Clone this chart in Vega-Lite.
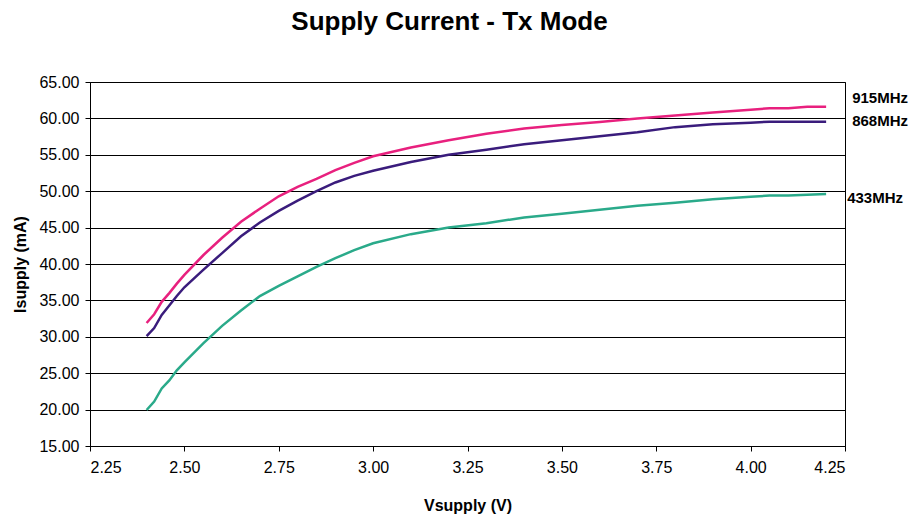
{
  "$schema": "https://vega.github.io/schema/vega-lite/v6.json",
  "width": 755,
  "height": 364,
  "autosize": {"type": "none"},
  "padding": {"left": 90, "top": 82, "right": 74, "bottom": 73},
  "background": "white",
  "title": {
    "text": "Supply Current - Tx Mode",
    "font": "Liberation Sans",
    "fontSize": 26,
    "fontWeight": "bold",
    "letterSpacing": 1.3,
    "color": "black",
    "anchor": "middle",
    "offset": 39,
    "dx": -18
  },
  "config": {
    "view": {"stroke": "black", "strokeWidth": 1},
    "axis": {
      "labelFont": "Liberation Sans",
      "titleFont": "Liberation Sans",
      "labelFontSize": 16,
      "titleFontSize": 16,
      "titleFontWeight": "bold",
      "labelColor": "black",
      "titleColor": "black",
      "domainColor": "black",
      "tickColor": "black",
      "tickSize": 5,
      "gridColor": "black",
      "gridOpacity": 1,
      "gridWidth": 1
    }
  },
  "data": {
    "values": [
      {"V": 2.40, "915MHz": 31.9, "868MHz": 30.1, "433MHz": 19.95},
      {"V": 2.42, "915MHz": 33.1, "868MHz": 31.2, "433MHz": 21.1},
      {"V": 2.44, "915MHz": 34.8, "868MHz": 33.0, "433MHz": 22.9},
      {"V": 2.46, "915MHz": 36.0, "868MHz": 34.3, "433MHz": 24.0},
      {"V": 2.48, "915MHz": 37.3, "868MHz": 35.6, "433MHz": 25.4},
      {"V": 2.50, "915MHz": 38.5, "868MHz": 36.8, "433MHz": 26.5},
      {"V": 2.55, "915MHz": 41.2, "868MHz": 39.2, "433MHz": 29.1},
      {"V": 2.60, "915MHz": 43.6, "868MHz": 41.5, "433MHz": 31.5},
      {"V": 2.65, "915MHz": 45.8, "868MHz": 43.8, "433MHz": 33.6},
      {"V": 2.70, "915MHz": 47.6, "868MHz": 45.7, "433MHz": 35.6},
      {"V": 2.75, "915MHz": 49.3, "868MHz": 47.3, "433MHz": 37.0},
      {"V": 2.80, "915MHz": 50.6, "868MHz": 48.7, "433MHz": 38.3},
      {"V": 2.85, "915MHz": 51.7, "868MHz": 50.0, "433MHz": 39.6},
      {"V": 2.90, "915MHz": 52.9, "868MHz": 51.2, "433MHz": 40.8},
      {"V": 2.95, "915MHz": 53.9, "868MHz": 52.1, "433MHz": 41.9},
      {"V": 3.00, "915MHz": 54.8, "868MHz": 52.8, "433MHz": 42.85},
      {"V": 3.10, "915MHz": 56.0, "868MHz": 54.0, "433MHz": 44.1},
      {"V": 3.20, "915MHz": 57.0, "868MHz": 55.0, "433MHz": 45.0},
      {"V": 3.30, "915MHz": 57.9, "868MHz": 55.7, "433MHz": 45.6},
      {"V": 3.40, "915MHz": 58.6, "868MHz": 56.45, "433MHz": 46.4},
      {"V": 3.50, "915MHz": 59.1, "868MHz": 57.0, "433MHz": 46.9},
      {"V": 3.60, "915MHz": 59.5, "868MHz": 57.55, "433MHz": 47.45},
      {"V": 3.70, "915MHz": 60.0, "868MHz": 58.1, "433MHz": 48.0},
      {"V": 3.80, "915MHz": 60.4, "868MHz": 58.8, "433MHz": 48.4},
      {"V": 3.90, "915MHz": 60.8, "868MHz": 59.2, "433MHz": 48.9},
      {"V": 4.00, "915MHz": 61.2, "868MHz": 59.4, "433MHz": 49.25},
      {"V": 4.05, "915MHz": 61.4, "868MHz": 59.55, "433MHz": 49.4},
      {"V": 4.10, "915MHz": 61.4, "868MHz": 59.55, "433MHz": 49.4},
      {"V": 4.15, "915MHz": 61.6, "868MHz": 59.55, "433MHz": 49.5},
      {"V": 4.20, "915MHz": 61.6, "868MHz": 59.55, "433MHz": 49.6}
    ]
  },
  "transform": [
    {"fold": ["915MHz", "868MHz", "433MHz"], "as": ["series", "I"]}
  ],
  "encoding": {
    "x": {
      "field": "V",
      "type": "quantitative",
      "scale": {"domain": [2.25, 4.25], "nice": false, "zero": false},
      "axis": {
        "title": "Vsupply (V)",
        "values": [2.25, 2.5, 2.75, 3.0, 3.25, 3.5, 3.75, 4.0, 4.25],
        "format": ".2f",
        "grid": false,
        "labelPadding": 8,
        "titlePadding": 22
      }
    },
    "y": {
      "field": "I",
      "type": "quantitative",
      "scale": {"domain": [15, 65], "nice": false, "zero": false},
      "axis": {
        "title": "Isupply (mA)",
        "values": [15, 20, 25, 30, 35, 40, 45, 50, 55, 60, 65],
        "format": ".2f",
        "grid": true,
        "labelPadding": 6,
        "titlePadding": 10
      }
    }
  },
  "layer": [
    {
      "mark": {"type": "line", "strokeWidth": 2.5},
      "encoding": {
        "color": {
          "field": "series",
          "type": "nominal",
          "scale": {"domain": ["915MHz", "868MHz", "433MHz"], "range": ["#E8207E", "#3A1C7C", "#2AAA8A"]},
          "legend": null
        }
      }
    },
    {
      "transform": [{"filter": "datum.V == 4.2 && datum.series == '915MHz'"}],
      "mark": {"type": "text", "align": "left", "baseline": "middle", "dx": 26, "dy": -9, "font": "Liberation Sans", "fontSize": 15, "fontWeight": "bold", "color": "black"},
      "encoding": {"text": {"field": "series"}}
    },
    {
      "transform": [{"filter": "datum.V == 4.2 && datum.series == '868MHz'"}],
      "mark": {"type": "text", "align": "left", "baseline": "middle", "dx": 26, "dy": -1, "font": "Liberation Sans", "fontSize": 15, "fontWeight": "bold", "color": "black"},
      "encoding": {"text": {"field": "series"}}
    },
    {
      "transform": [{"filter": "datum.V == 4.2 && datum.series == '433MHz'"}],
      "mark": {"type": "text", "align": "left", "baseline": "middle", "dx": 21, "dy": 4, "font": "Liberation Sans", "fontSize": 15, "fontWeight": "bold", "color": "black"},
      "encoding": {"text": {"field": "series"}}
    }
  ]
}
